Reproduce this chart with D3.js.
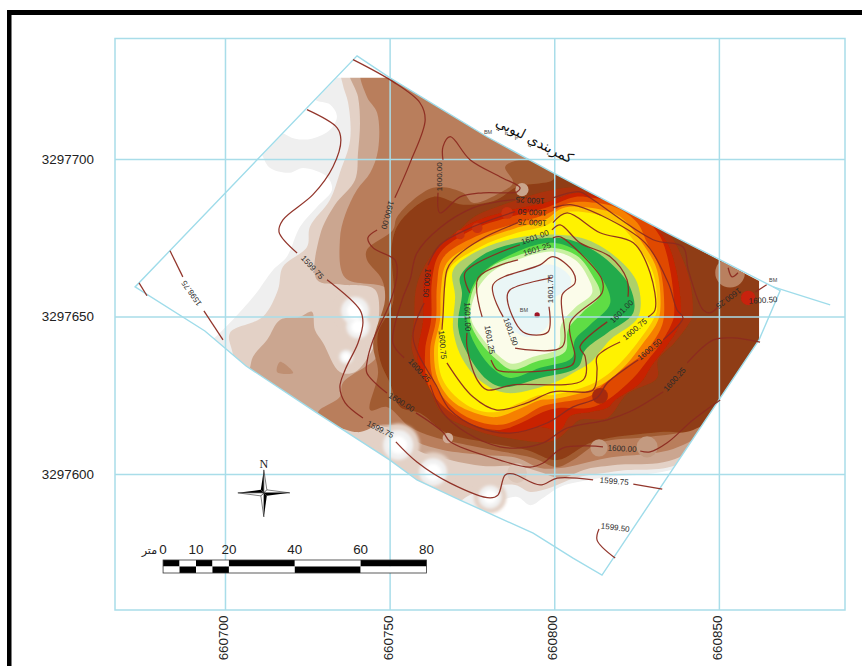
<!DOCTYPE html>
<html><head><meta charset="utf-8">
<style>html,body{margin:0;padding:0;background:#fff}svg{display:block}text{font-family:"Liberation Sans",Arial,sans-serif}</style>
<script src="https://cdn.jsdelivr.net/npm/d3@7"></script></head><body>
<svg id="map" width="862" height="666"></svg>
<script>
// All survey coordinates are metres east of 660700 and north of 3297600.
const eastTicks=[660700,660750,660800,660850];
const northTicks=[3297600,3297650,3297700];
const siteBoundary=[[40.1,132.8],[50.1,125.8],[79.6,107.1],[99.6,95.7],[134.3,76.6],[166.5,59.4],[168.6,58.2],[162.2,42.6],[114.5,-32.1],[105.7,-26.7],[93.6,-18.8],[71.4,-8.3],[58.3,-1.9],[50.1,4.4],[27.9,19.4],[6.4,34.3],[-6.1,45.4],[-27.3,59.4]];
const roadSpur=[[166.5,59.4],[183.8,53.7]];
const rasterExtent=[[34,125.8],[50.1,125.8],[79.6,107.1],[99.6,95.7],[134.3,76.6],[162.2,61.3],[162.2,42.6],[114.5,-32.1],[105.7,-26.7],[93.6,-18.8],[71.4,-8.3],[58.3,-1.9],[50.1,4.4],[27.9,19.4],[6.4,34.3],[-6.1,45.4],[-27.3,59.4]];
const bandColors=["#efefef","#e3d1c6","#cba690","#b97e5c","#a15c33","#8f3e12","#ab3208","#c92200","#e04a00","#f68000","#fdc400","#fff200","#aed06a","#22ab4c","#5fdd45","#c8f0a0","#fbfcea","#eaf6f6"];
const band1=[[30.4,128.4],[168.6,64.8],[168.6,41],[141.3,3.8],[113.9,-1.3],[101.8,-4.1],[96.6,-7.6],[92.7,-9.9],[88.7,-7.3],[80.5,-9.9],[72.9,-13],[53.2,-1.9],[7.6,28.3],[-6.1,41],[-3.9,42.6],[1.5,48],[9.1,56.9],[14.6,64.8],[18.8,69],[22.8,78.5],[28,84.9],[32.5,90.3],[31,94.4],[23.7,97.2],[19.7,95.7],[13.7,97.2],[11.2,101.4],[10,103.6],[14.3,110],[17.3,108.4],[21.3,106.5],[26.4,106.5],[31.9,109.3],[34,113.5],[31.9,117.3],[27.3,118.9],[25.8,122.7]];
const band2=[[35.5,128.4],[171.6,64.8],[171.6,41],[139.1,3.8],[120,1],[106.3,-1.3],[98.7,-4.4],[92.7,-5.7],[88.1,-3.5],[80.5,-4.1],[74.4,-6.7],[68.4,-9.9],[53.2,-1.9],[6.1,29.9],[2.1,39.4],[1.5,44.8],[11.5,49.9],[16.1,58.5],[17.6,65.8],[24.9,72.1],[25.8,78.5],[31.9,87.1],[34.9,95.7],[38,106.1],[37.4,117.9],[35.8,123.6]];
const band3=[[38,128.4],[174.7,64.8],[174.7,41],[138.2,5.4],[119.1,2.9],[110,1.6],[101.8,-1.3],[95.7,0.6],[88.7,2.5],[78.4,2.5],[68.4,4.4],[58.3,7.6],[51.6,14],[41.6,15.6],[36.5,14.6],[28.9,14],[6.1,28.3],[7.6,33.7],[8.5,37.2],[12.8,42.6],[16.7,48.9],[22.8,49.9],[26.4,51.5],[27.3,45.8],[29.8,41.6],[34.9,32.4],[39.5,32.4],[44.7,39.4],[46.2,44.8],[45.6,58.5],[35.8,60.1],[27.9,61.7],[28.9,76],[33.4,85.5],[39.5,93.4],[40.4,102],[41,111.5],[40.4,119.8]];
const band4=[[41.6,128.4],[174.7,68],[174.7,41],[139.1,9.2],[116.1,5.1],[101.8,1.9],[95.7,1.9],[88.7,5.1],[78.4,6],[66.2,7.6],[58.3,10.2],[53.2,14.9],[47.1,15.6],[40.1,13.3],[28.3,19.4],[34.9,24.5],[35.8,28.9],[46.2,37.2],[48.6,45.8],[49.5,58.5],[36.5,62.3],[34.9,74.4],[36.5,82.3],[40.1,90.3],[44.1,95.7],[46.5,103],[46.2,114.7],[43.1,119.8]];
const band5=[[51,77.5],[52.3,81.7],[63.2,90.9],[72.3,89.3],[75.3,86.1],[83.5,89.3],[87.5,92.5],[85.1,97.6],[89.6,99.8],[94.2,99.8],[99.3,98.2],[174.7,68],[174.7,41],[142.2,14.6],[129.1,11.8],[113.9,9.9],[105.7,4.4],[100.9,2.2],[93.6,5.1],[81.4,7.6],[73.5,9.2],[63.2,11.8],[56.2,14.9],[49.2,21.3],[44.1,20.3],[46.5,32.1],[45,41.6],[48.6,55.3],[47.7,61.7],[43.1,68],[43.1,71.2]];
const band6=[[51,54.3],[50.7,72.8],[53.2,80.1],[63.2,88],[72.3,85.5],[82.6,87.1],[88.7,91.2],[99.6,93.4],[100.6,96],[174.7,68],[174.7,41],[142.2,14],[132.2,13.3],[111.8,10.2],[100.9,4.4],[91.7,7.6],[78.4,10.2],[67.4,13],[59.2,19.4],[53.2,21.3],[50.1,28.9],[47.1,36.2],[46.5,44.8]];
const band7=[[57.4,48.9],[58.3,60.1],[62.9,69.6],[70.5,76.6],[75.3,81.4],[84.5,85.5],[99.6,90.3],[107.8,90.9],[113.9,88.7],[126.1,83.3],[134.6,76.6],[138.2,70.2],[141.3,60.7],[141.9,49.9],[140.4,47],[136.4,41.6],[131.5,36.2],[131.2,30.5],[122.1,25.4],[116.1,17.8],[107.8,17.2],[104.8,14.6],[99.6,10.5],[85.7,11.4],[76.6,13.7],[66.2,19.1],[62.3,26.7],[56.8,39.4]];
const band8=[[60.2,48.9],[60.5,61.7],[64.4,71.2],[73.8,79.1],[85.1,83.3],[97.2,86.1],[107.2,89.3],[113.9,87.7],[126.1,82.3],[133.7,74.4],[137,64.8],[138.5,50.5],[137.6,46.4],[133.7,40],[129.7,34.6],[126.1,28.9],[118.5,23.5],[116.1,21],[110.9,19.7],[104.8,18.4],[101.8,14],[95.7,14.9],[87.5,13],[78.4,14.9],[70.5,18.1],[63.2,25.7],[58.6,36.2]];
const band9=[[62.6,48.9],[62.9,61.7],[65.3,70.2],[75,77.5],[85.7,81.4],[97.2,84.5],[106.3,88],[111.5,87.7],[119.1,86.1],[127,81.7],[132.2,75.3],[135.2,64.8],[136.4,50.5],[135.5,47.4],[132.2,41.3],[128.2,35.9],[124,30.5],[116.1,23.5],[110.9,21],[101.8,21],[96.6,19.7],[90.5,16.5],[83.5,14],[75.3,15.6],[66.8,21],[61.7,28.3],[60.8,39.4]];
const band10=[[64.1,48.9],[64.4,60.1],[66.2,68.6],[76,75.3],[86.6,79.1],[97.2,82.3],[104.8,86.1],[112.4,86.1],[119.1,84.5],[125.2,79.8],[128.2,73.4],[132.2,64.8],[133.4,52.1],[132.8,47.4],[130,41.9],[127,38.1],[120,32.7],[114.8,28.3],[110.9,24.8],[100.9,22.6],[95.7,21.3],[90.5,18.1],[83.5,15.6],[75.3,17.2],[68.4,21.9],[63.5,29.2],[62.3,39.4]];
const band11=[[65.3,48.9],[65.6,58.5],[67.4,67.1],[76.9,73.7],[87.8,77.9],[97.2,80.7],[102.7,84.5],[111.5,84.5],[120,81.7],[127.3,72.5],[131.2,64.8],[132.2,52.1],[131.2,48],[126.4,40.7],[122.1,35],[117,30.2],[110.9,26.7],[99.6,23.8],[95.7,23.5],[90.2,21],[82.6,18.1],[76.6,19.1],[69.3,22.9],[64.7,29.9],[63.5,39.4]];
const band12=[[66.2,48.9],[66.8,58.5],[68.4,65.5],[77.5,72.1],[88.7,76.6],[97.8,79.1],[102.7,82.9],[110.9,82.9],[119.1,79.8],[126.1,71.2],[130,63.9],[131.2,52.1],[130,48.9],[125.2,41.6],[120.9,36.2],[116.1,31.5],[110.9,28.3],[99.6,25.1],[95.7,25.1],[89.6,22.6],[82.6,19.7],[76.6,20.3],[70.5,24.2],[65.9,30.5],[64.7,39.4]];
const band13=[[69.3,64.8],[77.5,71.2],[88.7,75],[100.9,76],[110,74.4],[119.1,68.6],[125.2,60.7],[125.5,49.9],[117,42.6],[110.9,35.3],[105.7,32.1],[99.6,28.9],[85.7,25.7],[78.4,28.9],[72.3,36.2],[69.3,45.8],[69.9,56.3]];
const band14=[[71.4,62.6],[78.4,69.6],[88.7,73.4],[100.9,75],[108.8,72.8],[117,67.1],[123,59.4],[124,51.2],[116.1,44.8],[109.4,39.4],[107.2,34],[95.7,30.5],[84.5,27.6],[79.6,29.9],[73.5,38.5],[70.8,46.7],[72,57.5]];
const band15=[[73.8,55.3],[77.5,63.2],[88.7,70.6],[99.6,73.4],[107.8,70.2],[113.9,63.2],[117,54.3],[110.9,47.4],[106.3,42.6],[105.4,36.9],[95.7,33.7],[86.6,30.5],[81.1,33.7],[76,41],[73.8,47.4]];
const band16=[[74.4,48.9],[75.3,58.5],[80.5,65.5],[88.7,69.3],[99.6,71.8],[106.9,69.3],[111.5,63.2],[113.9,56.9],[108.8,51.5],[104.2,45.8],[103.3,38.8],[94.2,35.6],[87.2,33.1],[82.6,36.2],[77.5,42]];
const band17=[[74.7,49.6],[76.3,57.8],[81.1,64.2],[88.7,68],[99.6,70.6],[106.3,68],[110.3,62.3],[111.5,57.5],[106.3,52.8],[102.1,47.4],[101.2,40],[93.6,37.2],[87.2,35],[82.9,37.8],[78.1,43.2]];
const band18=[[82.6,54.3],[81.4,59.4],[87.5,63.9],[99.6,66.4],[104.8,62.6],[104.8,59.4],[99.6,55.3],[97.8,46.7],[91.7,43.5],[86.6,46.7]];
const bands=[band1,band2,band3,band4,band5,band6,band7,band8,band9,band10,band11,band12,band13,band14,band15,band16,band17,band18];
const tanPatch=[[16.7,35.6],[20.7,32.1],[15.8,32.4]];
const hollowE=[39.5,40.4,36.8,52.6,63.2,80.5];
const hollowN=[51.8,46.7,37.2,9.2,0.6,-7.3];
const hollowR=[6,5,3,6.5,6,5];
const spotE=[113.6,128.2,67.7,153.4,90.2,88.7,158.9,113.9,85.7,76.6,71.4,94.8];
const spotN=[8.3,8.6,11.4,63.9,90.3,0.3,55.9,24.8,82.9,78.2,76,50.5];
const spotR=[2.6,3.2,1.6,4.5,2,3,2.2,2.4,1.8,1.6,1.4,0.8];
const spotC=["#c39a80","#c39a80","#d0ac98","#b9805e","#c9a58c","#dcc6b8","#c8200a","#a82a0a","#c9300e","#c9300e","#c9300e","#a01525"];
const contours=[
[[-26.1,60.7],[-23.7,56.6]],
[[-16.7,70.9],[-12.8,62.6]],
[[-6.4,51.8],[-0.6,42.6]],
[[24.9,115.7],[34,110],[35.2,106.1],[32.8,97.6],[26.7,88.7],[17.6,80.7],[16.4,76.9],[21.9,70.2]],
[[31,61.7],[41,52.1],[41.9,48],[40.4,41.6],[36.5,33.1],[34.9,27.6],[36.5,22.6],[41.9,17.8]],
[[51.9,10.2],[58.3,3.8],[68.4,-2.9],[80.5,-7.6],[82.9,-6.7],[85.1,-0.3],[87.5,0],[95.7,-3.5],[100.9,-1.3],[111.8,-1.9]],
[[124,-3.2],[132.8,-4.8]],
[[113.6,-17.5],[113,-21],[118.5,-26.7]],
[[38.9,131.6],[51,124.6],[59.2,117.9],[60.8,112.5],[56.2,98.8],[51.6,87.7]],
[[46.2,77.5],[43.4,75],[45,71.8],[51.6,68],[52.3,63.9],[50.1,54.3],[45,42.6],[43.1,35.3],[43.1,32.1],[49.2,25.7]],
[[58,19.4],[66.2,13.3],[68.4,10.2],[83.5,4.4],[92.7,2.2],[96.6,3.5],[102.7,8.3],[114.8,8.6]],
[[126.1,7.3],[129.1,7],[134.3,9.9],[142.2,17.2],[150.4,23.5]],
[[64.7,89.3],[65.3,82.9],[71.4,88],[78.4,89.3],[88.7,89.6],[89.6,90.9],[83.5,94.4],[74.4,99.8],[68.4,107.1],[66.2,103.9],[66.2,99.8]],
[[88.1,87.1],[82.6,86.4],[75.3,84.5],[65.3,78.2],[58.3,70.2],[56.2,61.7],[53.8,55.3],[51,41.6],[54.4,36.9]],
[[62.3,28.3],[66.2,19.4],[73.5,13],[83.5,8.6],[89.6,8.3],[96.6,9.9],[103.9,14.6],[116.1,17.2],[124,20.3],[133.1,26.1]],
[[140.4,35.3],[148.3,42.6],[154.3,43.2],[162.5,41.9]],
[[99.6,87.7],[107.8,89.6],[110.9,87.7],[130,74.4],[139.1,72.1],[140.7,64.8],[145.2,52.1],[147.3,51.2],[149.8,53.1]],
[[152.8,65.5],[154,62.6],[155.8,63.9]],
[[88.1,83.3],[75.3,78.5],[65.3,72.8],[61.7,66.4]],
[[60.5,54.3],[57.1,43.5],[64.4,27.6],[68.4,20.3],[76.6,14.9],[86.6,13],[97.8,16.2],[105.7,21.3],[113,24.2],[116.1,28.9],[125.5,36.2]],
[[133.1,42.6],[139.1,49.6],[137.3,52.1],[134.6,60.7],[127.6,73.4],[113.9,82.3],[105.4,85.5],[99.6,84.5]],
[[89,79.8],[77.5,74.4],[69.3,68],[67.4,64.8],[66.2,49.9],[65.9,45.8]],
[[67.4,35.3],[75.3,24.5],[82.6,20.3],[91.7,22.6],[99.6,26.1],[111.8,26.7],[113,33.1],[113,37.2],[120,41.9]],
[[128.5,49.9],[130.6,52.1],[129.1,63.9],[124,73.4],[113.9,76.6],[103.9,82.9],[99.6,79.8]],
[[89.6,72.8],[72.9,63.9],[74.4,57.5]],
[[73.5,44.8],[73.5,40.4],[76.6,29.9],[79.6,26.7],[87.5,28.3],[108.8,29.9],[109.4,37.2],[107.8,40.4],[116.1,48.3]],
[[122.4,56.3],[122.1,61.7],[117,69],[107.8,73.4],[101.8,79.1],[99.3,77.5]],
[[89,68],[76.9,62.3],[78.1,49.9]],
[[80.8,36.2],[82.6,33.1],[85.7,32.4],[105.4,34.6],[106.3,37.2],[104.8,48],[114.5,57.5],[114.5,61.7],[107.8,70.2],[101.8,75.3],[99.6,75]],
[[84.5,49.9],[81.4,60.1],[95.7,66.4],[99.6,69],[105.7,64.2],[106.3,60.7],[102.4,56.9],[102.4,40.4],[88.1,40]],
[[99.3,62.3],[86.6,58.5],[85.7,55.9],[90.5,45.1],[98.1,45.1],[98.4,53.1]],
[[161.1,57.8],[164.5,60.1]]
];
const contourLabels=["1598.75","1599.75","1599.75","1599.75","1599.50","1600.00","1600.00","1600.00","1600.00","1600.25","1600.25","1600.25","1600.25","1600.50","1600.50","1600.50","1600.50","1600.75","1600.75","1600.75","1601.00","1601.00","1601.00","1601.25","1601.25","1601.50","1601.75"];
const labelE=[-10,26.4,47.1,118.2,118.5,49.2,65.3,53.5,120.6,92.7,58.9,136.7,152.8,93.3,61.1,129.1,163.4,93.3,65.9,124.6,94.2,73.5,120.6,94.8,80.2,86.6,99];
const labelN=[57.5,65.5,14,-2.5,-17.2,82.3,94.4,22.6,7.9,87.1,32.7,29.9,55.9,83.3,60.7,39.4,55,80.1,41,45.8,75,49.9,51.5,71.2,42.6,45.1,58.8];
const labelAngle=[235,47,27,5,7,105,-90,32,3,183,48,-48,143,183,95,-40,-3,183,85,-40,-20,88,-45,-17,80,70,-90];
const benchE=[79.9,90.8,166.5];
const benchN=[108.4,51.8,61.3];
const scaleStops=[0,5,10,15,20,40,60,80];
const scaleLabels=[0,10,20,40,60,80];

const E0=660700,N0=3297600;
const x=d3.scaleLinear().domain([E0-33.4,E0+188.3]).range([115,845]);
const y=d3.scaleLinear().domain([N0+138.3,N0-43.2]).range([38.5,610]);
const px=p=>x(E0+p[0]), py=p=>y(N0+p[1]);
const mToPx=m=>x(E0+m)-x(E0);
const svg=d3.select("#map");
const ink="#222";

// frame rule
svg.append("rect").attr("x",7).attr("y",10).attr("width",855).attr("height",5).attr("fill","#000");
svg.append("rect").attr("x",7).attr("y",10).attr("width",4.5).attr("height",656).attr("fill","#000");

const defs=svg.append("defs");
defs.append("clipPath").attr("id","raster").append("path")
  .attr("d",d3.line().x(px).y(py).curve(d3.curveLinearClosed)(rasterExtent));
const soft=defs.append("filter").attr("id","soft").attr("x","-5%").attr("y","-5%").attr("width","110%").attr("height","110%");
soft.append("feGaussianBlur").attr("stdDeviation",0.7);
const softer=defs.append("filter").attr("id","softer").attr("x","-30%").attr("y","-30%").attr("width","160%").attr("height","160%");
softer.append("feGaussianBlur").attr("stdDeviation",1.6);

// surface bands
const clipG=svg.append("g").attr("clip-path","url(#raster)");
const surface=clipG.append("g").attr("filter","url(#soft)");
const ringPath=d3.line().x(px).y(py).curve(d3.curveCatmullRomClosed.alpha(0.5));
surface.selectAll("path.band").data(bands).join("path").attr("class","band")
  .attr("d",ringPath).attr("fill",(d,i)=>bandColors[i]);
surface.append("path").attr("d",ringPath(tanPatch)).attr("fill","#bf8f72");

// hollows
const hollows=clipG.append("g").attr("filter","url(#softer)");
[[1,"#e3d1c6"],[0.7,"#f1f1f1"],[0.42,"#ffffff"]].forEach(([k,c])=>{
  hollows.selectAll(null).data(hollowE).join("circle")
    .attr("cx",(d)=>x(E0+d)).attr("cy",(d,i)=>y(N0+hollowN[i]))
    .attr("r",(d,i)=>mToPx(hollowR[i]*k)).attr("fill",c);
});
clipG.append("g").attr("filter","url(#soft)").selectAll("circle").data(spotE).join("circle")
  .attr("cx",d=>x(E0+d)).attr("cy",(d,i)=>y(N0+spotN[i]))
  .attr("r",(d,i)=>mToPx(spotR[i])).attr("fill",(d,i)=>spotC[i]);

// graticule through the library's axes
const gridColor="#a9dde9";
const gx=svg.append("g").attr("transform",`translate(0,610)`)
  .call(d3.axisBottom(x).tickValues(eastTicks).tickSize(-571.5).tickPadding(0).tickFormat(d3.format("d")));
gx.select(".domain").remove();
gx.selectAll(".tick line").attr("stroke",gridColor).attr("stroke-width",1.5);
gx.selectAll(".tick text").attr("fill",ink).style("font-size","13.4px")
  .attr("text-anchor","middle").attr("dy",null).attr("y",0)
  .attr("transform","translate(-1,28) rotate(-90)").attr("dominant-baseline","middle");
const gy=svg.append("g").attr("transform",`translate(115,0)`)
  .call(d3.axisLeft(y).tickValues(northTicks).tickSize(-730).tickPadding(21).tickFormat(d3.format("d")));
gy.select(".domain").remove();
gy.selectAll(".tick line").attr("stroke",gridColor).attr("stroke-width",1.5);
gy.selectAll(".tick text").attr("fill",ink).style("font-size","13.4px");
svg.append("rect").attr("x",x.range()[0]).attr("y",y.range()[0]).attr("width",x.range()[1]-x.range()[0]).attr("height",y.range()[1]-y.range()[0])
  .attr("fill","none").attr("stroke",gridColor).attr("stroke-width",1.5);

// site boundary
const plain=d3.line().x(px).y(py);
svg.append("path").attr("d",plain.curve(d3.curveLinearClosed)(siteBoundary)).attr("fill","none").attr("stroke","#9fdcea").attr("stroke-width",1.4);
svg.append("path").attr("d",d3.line().x(px).y(py)(roadSpur)).attr("fill","none").attr("stroke","#9fdcea").attr("stroke-width",1.2);

// contour lines
const contourPath=d3.line().x(px).y(py).curve(d3.curveCatmullRom.alpha(0.5));
svg.append("g").selectAll("path").data(contours).join("path")
  .attr("d",contourPath).attr("fill","none").attr("stroke","#8c2a20").attr("stroke-width",1.25).attr("opacity",0.95);

// contour labels
svg.append("g").selectAll("text").data(contourLabels).join("text")
  .attr("text-anchor","middle").attr("dominant-baseline","middle")
  .attr("transform",(d,i)=>`translate(${x(E0+labelE[i])},${y(N0+labelN[i])}) rotate(${labelAngle[i]})`)
  .attr("fill","#2a2a2a").style("font-size","8px").text(d=>d);

// benchmarks
svg.append("g").selectAll("text").data(benchE).join("text")
  .attr("x",d=>x(E0+d)).attr("y",(d,i)=>y(N0+benchN[i])).attr("text-anchor","middle").attr("dominant-baseline","middle")
  .attr("fill","#444").style("font-size","5.5px").text("BM");

// road name
svg.append("text").attr("transform",`translate(${x(E0+93.9)},${y(N0+105.8)}) rotate(27)`)
  .attr("text-anchor","middle").attr("dominant-baseline","middle")
  .style("font-family","'DejaVu Sans',sans-serif").style("font-size","14px").attr("fill","#111").text("كمربندي لپوپي");

// scale bar
const barE=-18.8, barTop=560, rowH=6.5;
const bar=svg.append("g");
d3.pairs(scaleStops).forEach(([a,b],i)=>{
  const xa=x(E0+barE)+mToPx(a), w=mToPx(b-a);
  bar.append("rect").attr("x",xa).attr("y",barTop).attr("width",w).attr("height",rowH).attr("fill",i%2?"#fff":"#000");
  bar.append("rect").attr("x",xa).attr("y",barTop+rowH).attr("width",w).attr("height",rowH).attr("fill",i%2?"#000":"#fff");
});
bar.append("rect").attr("x",x(E0+barE)).attr("y",barTop).attr("width",mToPx(80)).attr("height",2*rowH).attr("fill","none").attr("stroke","#333").attr("stroke-width",0.8);
bar.selectAll("text.t").data(scaleLabels).join("text").attr("class","t")
  .attr("x",d=>x(E0+barE)+mToPx(d)).attr("y",554).attr("text-anchor","middle")
  .attr("fill",ink).style("font-size","13.4px").text(d=>d);
bar.append("text").attr("x",x(E0+barE)-6).attr("y",554).attr("text-anchor","end")
  .style("font-family","'DejaVu Sans',sans-serif").style("font-size","11px").attr("fill",ink).text("متر");

// north arrow
const north=svg.append("g").attr("transform",`translate(${x(E0+11.8)},${y(N0-6)})`);
north.append("text").attr("x",0).attr("y",-25).attr("text-anchor","middle")
  .style("font-family","'Liberation Serif',serif").style("font-size","12px").attr("fill",ink).text("N");
[[0,-23,1],[0,24,-1]].forEach(([a,b,s])=>{
  north.append("path").attr("d",`M0,${b} L${-3*s},${-3*s} L0,0Z`).attr("fill","#000");
  north.append("path").attr("d",`M0,${b} L${3*s},${-3*s} L0,0Z`).attr("fill","#fff").attr("stroke","#000").attr("stroke-width",0.5);
});
[[-26,0,1],[26,0,-1]].forEach(([a,b,s])=>{
  north.append("path").attr("d",`M${a},0 L${-3*s},${3*s} L0,0Z`).attr("fill","#fff").attr("stroke","#000").attr("stroke-width",0.5);
  north.append("path").attr("d",`M${a},0 L${-3*s},${-3*s} L0,0Z`).attr("fill","#000");
});
</script></body></html>
